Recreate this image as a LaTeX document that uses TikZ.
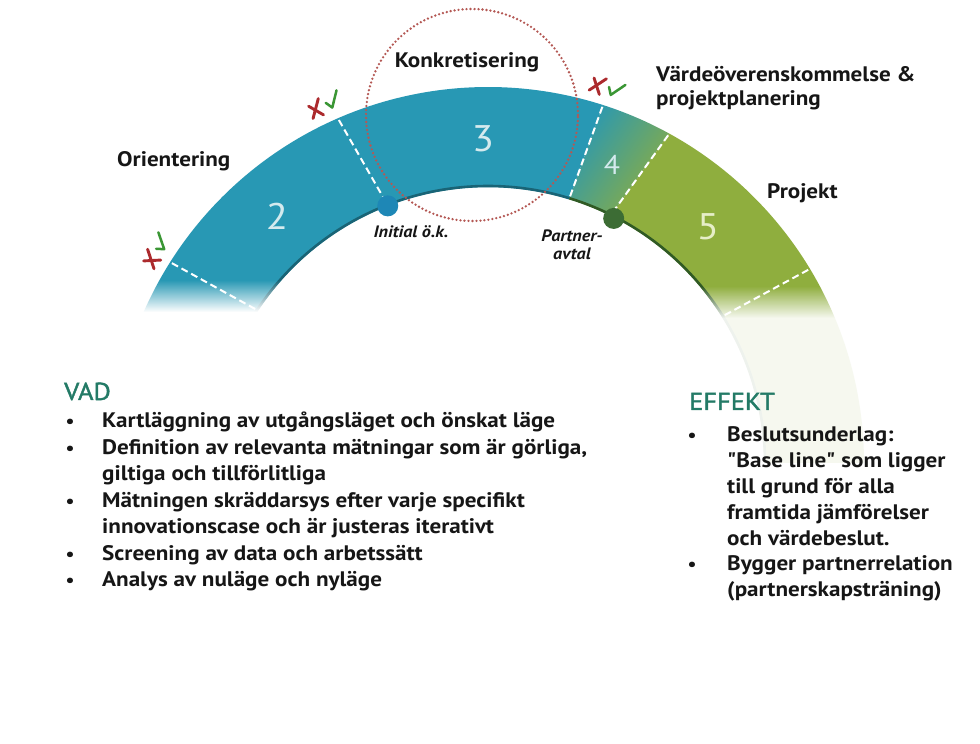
\documentclass[tikz,border=0pt]{standalone}
\usepackage{fontspec}
\setmainfont{PT Sans}[FakeStretch=1.1]
\newfontfamily\rawfont{PT Sans}[FakeStretch=1.1]
\newfontfamily\headfont{PT Sans}[FakeStretch=1.08, FakeBold=1.6]
\usetikzlibrary{fadings}

\definecolor{arcblue}{RGB}{40,152,180}
\definecolor{arcgreen}{RGB}{143,174,62}
\definecolor{edgeblue}{RGB}{25,100,118}
\definecolor{edgegreen}{RGB}{48,90,36}
\definecolor{dotblue}{RGB}{30,135,182}
\definecolor{dotgreen}{RGB}{60,108,52}
\definecolor{ringred}{RGB}{180,88,84}
\definecolor{markred}{RGB}{172,42,45}
\definecolor{markgreen}{RGB}{58,150,52}
\definecolor{headteal}{RGB}{35,122,102}
\definecolor{numblue}{RGB}{212,234,238}
\definecolor{numgreen}{RGB}{230,238,200}
\definecolor{inktext}{RGB}{22,22,22}

\tikzset{
  phase/.style={font=\bfseries\fontsize{21}{25}\selectfont, text=inktext, inner sep=0pt, anchor=base west},
  stepnum/.style={font=\fontsize{37}{37}\selectfont, text=numblue, inner sep=0pt, anchor=base},
  gate/.style={font=\bfseries\itshape\fontsize{16.5}{19}\selectfont, text=inktext, inner sep=0pt, anchor=base},
  bound/.style={white, line width=2pt, dash pattern=on 7pt off 4pt},
  heading/.style={font=\headfont\fontsize{24.5}{25}\selectfont, text=headteal, inner sep=0pt, anchor=base west},
  item/.style={font=\bfseries\fontsize{21}{24}\selectfont, text=inktext, inner sep=0pt, anchor=base west},
  bul/.style={font=\bfseries\fontsize{18}{24}\selectfont, text=inktext, inner sep=0pt, anchor=base},
  xmark/.style={markred, line width=2.9pt, line cap=round},
  okmark/.style={markgreen, line width=2.5pt, line cap=round, line join=round},
}

\begin{document}
\begin{tikzpicture}[x=1pt, y=1pt]
\useasboundingbox (0,0) rectangle (980,744);
\fill[white] (0,0) rectangle (980,744);

% ---- the phase band, centred at (488,281) ----
\begin{scope}[shift={(488,281)}]
  % phases 1-3 (blue)
  \fill[arcblue] (180:376) arc[start angle=180, end angle=72.2, radius=376]
    -- (72.9:276) arc[start angle=72.9, end angle=180, radius=276] -- cycle;
  % phase 4 (blue turning green)
  \shade[left color=arcblue, right color=arcgreen, shading angle=55]
    (72.2:376) arc[start angle=72.2, end angle=61.2, radius=376]
    -- (63.6:276) arc[start angle=63.6, end angle=72.9, radius=276] -- cycle;
  % phase 5 onwards (green)
  \fill[arcgreen] (61.2:376) arc[start angle=61.2, end angle=0, radius=376]
    -- (0:276) arc[start angle=0, end angle=63.6, radius=276] -- cycle;

  % darker inner rim
  \draw[edgeblue, line width=2.6pt] (180:277) arc[start angle=180, end angle=72.9, radius=277];
  \draw[edgegreen, line width=2.6pt] (72.9:277) arc[start angle=72.9, end angle=0, radius=277];

  % phase boundaries
  \draw[bound] (147.7:374) -- (146.5:278);
  \draw[bound] (113.5:374) -- (111.3:278);
  \draw[bound] (72.2:374) -- (72.9:278);
  \draw[bound] (61.2:374) -- (63.6:278);
  \draw[bound] (31.1:374) -- (32.0:278);

  % decision points
  \fill[dotblue] (111.3:276) circle[radius=10.5];
  \fill[dotgreen] (62.8:275) circle[radius=10.5];

  % go / no-go marks at the gates
  \foreach \a in {147.3,114.4,72.3}{
    \begin{scope}[shift={(\a:394)}, rotate=\a-90]
      \draw[xmark] (-17,-8) -- (-4,8);
      \draw[xmark] (-16,5) -- (-6,-9);
      \draw[okmark] (1,1) -- (5,-6) -- (16,8);
    \end{scope}
  }
\end{scope}

% dotted ring around the concretisation phase
\draw[ringred, line width=2.6pt, dash pattern=on 0pt off 4pt, line cap=round]
  (472,629) circle[radius=106];

% soft veil over the lower part
\fill[white, path fading=north] (0,432) rectangle (560,464);
\fill[white] (0,0) rectangle (560,432);
\fill[white, opacity=0.92, path fading=north] (560,426) rectangle (980,458);
\fill[white, opacity=0.92] (560,0) rectangle (980,426);

% phase names
\node[phase, anchor=base] (konk) at (467,676) {Konkretisering};
\node[phase] (orient) at (117,577) {Orientering};
\node[phase] (varde1) at (656,662) {Värdeöverenskommelse \&};
\node[phase] (varde2) at (656,638) {projektplanering};
\node[phase] (proj) at (767,545) {Projekt};

% phase numbers
\node[stepnum] (n2) at (277,514) {2};
\node[stepnum] (n3) at (483,592) {3};
\node[stepnum, font=\fontsize{27}{27}\selectfont] (n4) at (612,569) {4};
\node[stepnum, text=numgreen] (n5) at (708,504) {5};

% gate labels
\node[gate] (initial) at (411,506) {Initial ö.k.};
\node[gate] (partner1) at (572,502) {Partner-};
\node[gate] (partner2) at (572,484) {avtal};

% VAD
\node[heading] (vad) at (64,344) {VAD};
\node[bul] (vb1) at (70,316) {\textbullet};
\node[item] (v1) at (102,316) {Kartläggning av utgångsläget och önskat läge};
\node[bul] (vb2) at (70,289.5) {\textbullet};
\node[item] (v2) at (102,289.5) {Definition av relevanta mätningar som är görliga,};
\node[item] (v3) at (102,263) {giltiga och tillförlitliga};
\node[bul] (vb4) at (70,236.5) {\textbullet};
\node[item] (v4) at (102,236.5) {Mätningen skräddarsys efter varje specifikt};
\node[item] (v5) at (102,210) {innovationscase och är justeras iterativt};
\node[bul] (vb6) at (70,183.5) {\textbullet};
\node[item] (v6) at (102,183.5) {Screening av data och arbetssätt};
\node[bul] (vb7) at (70,157) {\textbullet};
\node[item] (v7) at (102,157) {Analys av nuläge och nyläge};

% EFFEKT
\node[heading] (effekt) at (689,334) {EFFEKT};
\node[bul] (eb1) at (692,302) {\textbullet};
\node[item] (e1) at (727,302) {Beslutsunderlag:};
\node[item] (e2) at (727,276.2) {{\rawfont\bfseries"}Base line{\rawfont\bfseries"} som ligger};
\node[item] (e3) at (727,250.4) {till grund för alla};
\node[item] (e4) at (727,224.6) {framtida jämförelser};
\node[item] (e5) at (727,198.8) {och värdebeslut.};
\node[bul] (eb6) at (692,173) {\textbullet};
\node[item] (e6) at (727,173) {Bygger partnerrelation};
\node[item] (e7) at (727,147.2) {(partnerskapsträning)};
\end{tikzpicture}
\end{document}
